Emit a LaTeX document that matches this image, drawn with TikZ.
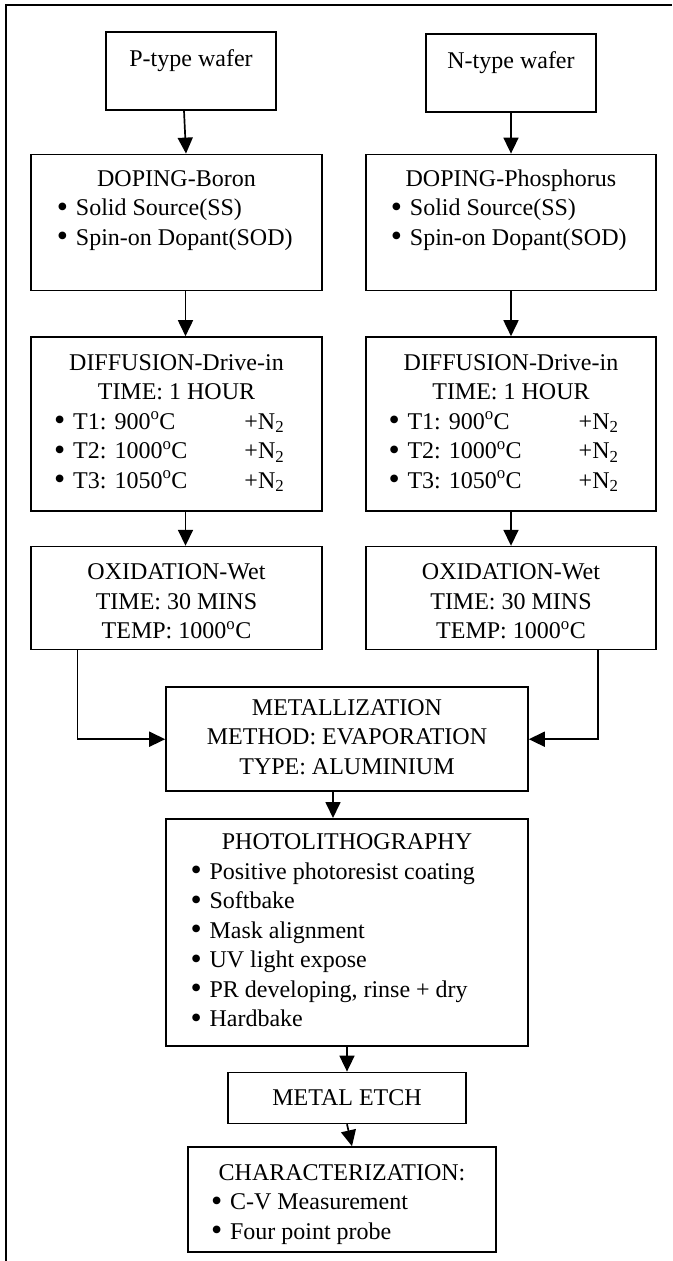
\documentclass[tikz,border=0pt]{standalone}
\usepackage{fontspec}
\setmainfont{Liberation Serif}
\usetikzlibrary{arrows.meta, positioning, calc}
\newcommand{\pbul}{\makebox[19pt][l]{\raisebox{-1.5pt}{\fontsize{32}{32}\selectfont\textbullet}}}

\begin{document}
\begin{tikzpicture}[
    x=1pt, y=1pt,
    stage/.style={
        rectangle, draw=black, line width=1.6pt,
        inner xsep=0pt, inner ysep=0pt,
        font=\fontsize{24}{29.5}\selectfont
    },
    flow/.style={
        -{Triangle[length=16pt, width=15pt]}, line width=1.7pt
    },
    pageedge/.style={
        line width=1.8pt
    }
]
\useasboundingbox (0,0) rectangle (672,-1261);

% Page edge (top and left only)
\draw[pageedge] (6,-1261) -- (6,-5) -- (672,-5);

% Wafers (Top)
\node[stage, minimum width=170pt, text height=35pt, text depth=43pt, anchor=north] (ptype) at (191,-31) {P-type wafer};
\node[stage, minimum width=170pt, text height=35pt, text depth=43pt, anchor=north] (ntype) at (511,-33) {N-type wafer};

% Doping
\node[stage, minimum width=291pt, text height=32pt, text depth=104pt, below=43pt of ptype, xshift=-14.5pt] (dopb) {
    \begin{tabular}[t]{@{}l@{\hspace{3.5pt}}}
        \multicolumn{1}{@{}c@{}}{DOPING-Boron} \\
        \pbul Solid Source(SS) \\
        \pbul Spin-on Dopant(SOD)
    \end{tabular}
};
\node[stage, minimum width=290pt, text height=32pt, text depth=104pt, below=41pt of ntype] (dopp) {
    \begin{tabular}[t]{@{}l@{\hspace{4.5pt}}}
        \multicolumn{1}{@{}c@{}}{DOPING-Phosphorus} \\
        \pbul Solid Source(SS) \\
        \pbul Spin-on Dopant(SOD)
    \end{tabular}
};

% Diffusion
\node[stage, minimum width=291pt, text height=33pt, text depth=141pt, below=45pt of dopb] (diffb) {
    \begin{tabular}[t]{@{}l@{\hspace{57pt}}l@{\hspace{14.5pt}}}
        \multicolumn{2}{@{}c@{}}{DIFFUSION-Drive-in} \\
        \multicolumn{2}{@{}c@{}}{TIME: 1 HOUR} \\
        \pbul T1: 900\textsuperscript{o}C & +N\textsubscript{2} \\
        \pbul T2: 1000\textsuperscript{o}C & +N\textsubscript{2} \\
        \pbul T3: 1050\textsuperscript{o}C & +N\textsubscript{2}
    \end{tabular}
};
\node[stage, minimum width=290pt, text height=33pt, text depth=141pt, below=45pt of dopp] (diffp) {
    \begin{tabular}[t]{@{}l@{\hspace{57pt}}l@{\hspace{15pt}}}
        \multicolumn{2}{@{}c@{}}{DIFFUSION-Drive-in} \\
        \multicolumn{2}{@{}c@{}}{TIME: 1 HOUR} \\
        \pbul T1: 900\textsuperscript{o}C & +N\textsubscript{2} \\
        \pbul T2: 1000\textsuperscript{o}C & +N\textsubscript{2} \\
        \pbul T3: 1050\textsuperscript{o}C & +N\textsubscript{2}
    \end{tabular}
};

% Oxidation
\node[stage, minimum width=291pt, text height=33pt, text depth=70pt, below=34pt of diffb] (oxib) {
    \begin{tabular}[t]{@{}c@{}}
        OXIDATION-Wet \\
        TIME: 30 MINS \\
        TEMP: 1000\textsuperscript{o}C
    \end{tabular}
};
\node[stage, minimum width=290pt, text height=33pt, text depth=70pt, below=34pt of diffp] (oxip) {
    \begin{tabular}[t]{@{}c@{}}
        OXIDATION-Wet \\
        TIME: 30 MINS \\
        TEMP: 1000\textsuperscript{o}C
    \end{tabular}
};

% Metallization (Centre)
\coordinate (mid) at ($(oxib.south)!0.5!(oxip.south)$);
\node[stage, minimum width=362pt, text height=28pt, text depth=76pt, below=36pt of mid, xshift=3.25pt] (metal) {
    \begin{tabular}[t]{@{}c@{}}
        METALLIZATION \\
        METHOD: EVAPORATION \\
        TYPE: ALUMINIUM
    \end{tabular}
};

% Photolithography
\node[stage, minimum width=362pt, text height=31pt, text depth=196pt, below=26pt of metal] (photo) {
    \begin{tabular}[t]{@{}l@{\hspace{28.6pt}}}
        \multicolumn{1}{@{}c@{}}{PHOTOLITHOGRAPHY} \\
        \pbul Positive photoresist coating \\
        \pbul Softbake \\
        \pbul Mask alignment \\
        \pbul UV light expose \\
        \pbul PR developing, rinse + dry \\
        \pbul Hardbake
    \end{tabular}
};

% Etch and characterization (Bottom)
\node[stage, minimum width=238pt, text height=33pt, text depth=18pt, below=25pt of photo] (etch) {METAL ETCH};
\node[stage, minimum width=308pt, text height=33pt, text depth=72pt, below=22pt of etch, xshift=-5pt] (charz) {
    \begin{tabular}[t]{@{}l@{\hspace{65pt}}}
        \multicolumn{1}{@{}c@{}}{CHARACTERIZATION:} \\
        \pbul C-V Measurement \\
        \pbul Four point probe
    \end{tabular}
};

% Flow
\draw[flow] ([xshift=-7pt]ptype.south) -- ([xshift=9.5pt]dopb.north);
\draw[flow] (ntype) -- (dopp);
\draw[flow] ([xshift=9pt]dopb.south) -- ([xshift=9pt]diffb.north);
\draw[flow] (dopp) -- (diffp);
\draw[flow] ([xshift=9pt]diffb.south) -- ([xshift=9pt]oxib.north);
\draw[flow] (diffp) -- (oxip);
\draw[flow] ([xshift=-99pt]oxib.south) |- (metal.west);
\draw[flow] ([xshift=87pt]oxip.south) |- (metal.east);
\draw[flow] ([xshift=-14pt]metal.south) -- ([xshift=-14pt]photo.north);
\draw[flow] (photo) -- (etch);
\draw[flow] (etch.south) -- ([xshift=10pt]charz.north);

\end{tikzpicture}
\end{document}
